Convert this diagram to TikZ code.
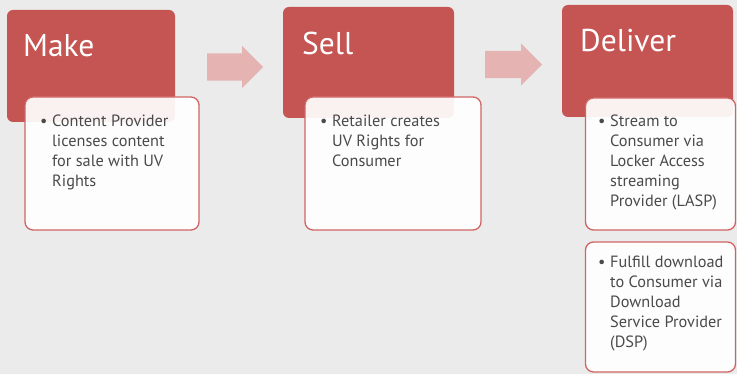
\documentclass[tikz,border=0pt]{standalone}
\usepackage{fontspec}
\setmainfont{PT Sans}
\usetikzlibrary{shapes.arrows}
\definecolor{bg}{HTML}{EBEBEB}
\definecolor{redfill}{HTML}{C55553}
\definecolor{redline}{HTML}{CF6563}
\definecolor{arrowfill}{HTML}{E6B3B3}
\definecolor{bodytext}{HTML}{4A4A4A}
\newcommand{\bul}{\makebox[12pt][l]{\textbullet}}
\newcommand{\ind}{\hspace*{12pt}}
\begin{document}
\begin{tikzpicture}[x=1pt,y=-1pt,
 redbox/.style={fill=redfill, rounded corners=6pt, draw=none, inner sep=0pt},
 whitebox/.style={fill=white, fill opacity=0.92, draw=redline, draw opacity=1, line width=1.3pt, rounded corners=8pt, inner sep=0pt},
 titletext/.style={text=white, font=\fontsize{31.5}{36}\selectfont, anchor=base west, inner sep=0pt},
 bodytxt/.style={text=bodytext, font=\fontsize{16.3}{20}\selectfont, anchor=north west, inner sep=0pt, align=left},
 flow/.style={single arrow, fill=arrowfill, draw=none, inner xsep=0pt, inner ysep=13.5pt, single arrow head extend=7.5pt, single arrow head indent=0pt, anchor=tail}
]
\fill[bg] (0,0) rectangle (737,374);
\useasboundingbox (0,0) rectangle (737,374);

% red header boxes
\node[redbox, minimum width=168pt, minimum height=112pt] (make) at (91,66) {};
\node[redbox, minimum width=171pt, minimum height=111pt] (sell) at (368.5,62.5) {};
\node[redbox, minimum width=171pt, minimum height=112pt] (deliver) at (647.5,61) {};

% titles
\node[titletext] (maket) at (23,57) {Make};
\node[titletext] (sellt) at (302,55) {Sell};
\node[titletext] (delivert) at (580,52) {Deliver};

% arrows
\node[flow, minimum height=56pt] (a1) at (207,67) {};
\node[flow, minimum height=57pt] (a2) at (485,64.5) {};

% white boxes
\node[whitebox, minimum width=174pt, minimum height=133pt] (makeb) at (112,163.5) {};
\node[whitebox, minimum width=176pt, minimum height=133pt] (sellb) at (393,163.5) {};
\node[whitebox, minimum width=150pt, minimum height=132pt] (delb1) at (660.5,164) {};
\node[whitebox, minimum width=150pt, minimum height=130pt] (delb2) at (660.5,307) {};

% body texts
\node[bodytxt] (maketx) at (40,115) {\bul Content Provider\\ \ind licenses content\\ \ind for sale with UV\\ \ind Rights};
\node[bodytxt] (selltx) at (320,115) {\bul Retailer creates\\ \ind UV Rights for\\ \ind Consumer};
\node[bodytxt] (del1tx) at (598,115) {\bul Stream to\\ \ind Consumer via\\ \ind Locker Access\\ \ind streaming\\ \ind Provider (LASP)};
\node[bodytxt] (del2tx) at (598,256) {\bul Fulfill download\\ \ind to Consumer via\\ \ind Download\\ \ind Service Provider\\ \ind (DSP)};
\end{tikzpicture}
\end{document}
